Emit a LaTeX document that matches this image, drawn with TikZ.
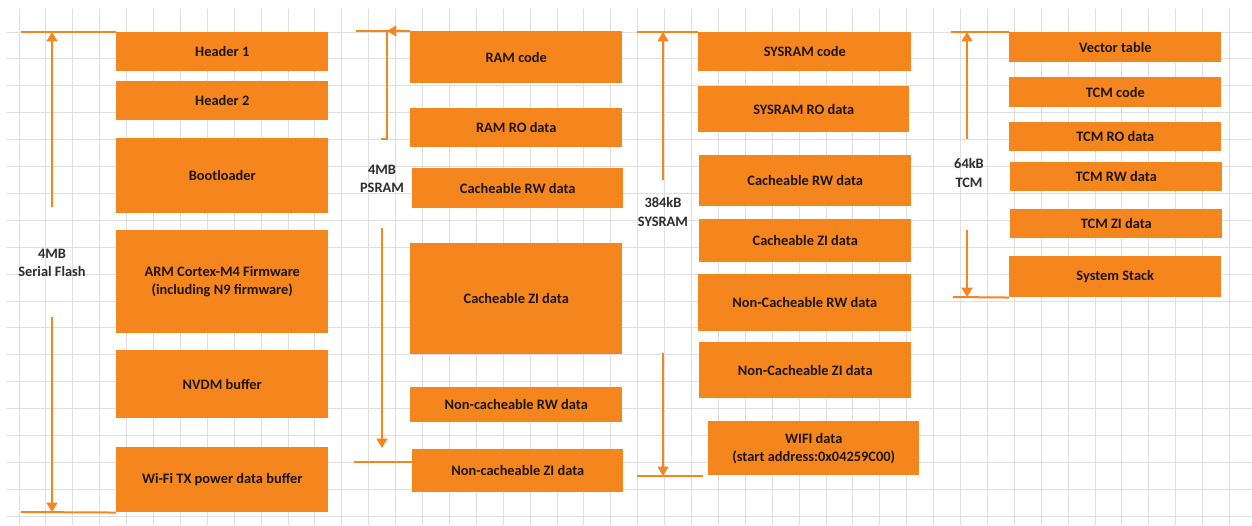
\documentclass[tikz,border=0pt]{standalone}
\usepackage{fontspec}
\setmainfont{Carlito}
\usetikzlibrary{arrows.meta}
\definecolor{memorange}{RGB}{245,134,30}
\definecolor{gridgray}{RGB}{224,222,226}
\definecolor{txtdark}{RGB}{30,22,16}
\definecolor{lbldark}{RGB}{45,45,45}
\begin{document}
\begin{tikzpicture}[x=0.75pt,y=-0.75pt,
  blk/.style args={#1x#2}{fill=memorange, anchor=north west, inner sep=0pt,
    minimum width=#1*0.75pt, minimum height=#2*0.75pt, text=txtdark,
    font=\bfseries\fontsize{10.8}{13.6}\selectfont, align=center},
  sizelbl/.style={text=lbldark, font=\bfseries\fontsize{10.8}{13.6}\selectfont,
    align=center},
  gridline/.style={draw=gridgray, line width=0.7pt},
  endline/.style={draw=memorange, line width=1.5pt},
  sizearrow/.style={draw=memorange, line width=1.5pt,
    -{Triangle[width=8pt,length=7pt]}}]
\useasboundingbox (0,0) rectangle (1252,525);
\fill[white] (0,0) rectangle (1252,525);
\foreach \i in {0,...,45}
  \draw[gridline] (19+26.9*\i,9) -- (19+26.9*\i,525);
\foreach \j in {0,...,18}
  \draw[gridline] (6,32+26.9*\j) -- (1252,32+26.9*\j);

\node[blk=212x39] (hdra) at (116,32) {Header 1};
\node[blk=212x39] (hdrb) at (116,81) {Header 2};
\node[blk=212x75] (boot) at (116,138) {Bootloader};
\node[blk=212x103] (fw) at (116,230) {ARM Cortex-M4 Firmware\\(including N9 firmware)};
\node[blk=212x68] (nvdm) at (116,350) {NVDM buffer};
\node[blk=212x65] (txpwr) at (116,447) {Wi-Fi TX power data buffer};
\coordinate (flA) at (21,32);
\coordinate (flB) at (21,512);
\coordinate (flup) at (52,207);
\coordinate (fldn) at (52,317);
\node[sizelbl] (fllbl) at (52,263) {4MB\\Serial Flash};
\draw[endline] (flA) -- (hdra.north west);
\draw[endline] (flB) -- (txpwr.south west);
\draw[sizearrow] (flup) -- (flup |- flA);
\draw[sizearrow] (fldn) -- (fldn |- flB);

\node[blk=212x52] (ramcode) at (410,31) {RAM code};
\node[blk=212x39] (ramro) at (410,108) {RAM RO data};
\node[blk=211x40] (prw) at (412,168) {Cacheable RW data};
\node[blk=212x111] (pzi) at (410,243) {Cacheable ZI data};
\node[blk=212x35] (pncrw) at (410,387) {Non-cacheable RW data};
\node[blk=211x43] (pnczi) at (412,449) {Non-cacheable ZI data};
\coordinate (psA) at (356,31);
\coordinate (psB) at (354,462);
\coordinate (pstick) at (381,139);
\coordinate (pscorner) at (387,31);
\coordinate (pshead) at (400,31);
\coordinate (psdn) at (382,228);
\coordinate (psend) at (382,448);
\node[sizelbl] (pslbl) at (382,179) {4MB\\PSRAM};
\draw[endline] (psA) -- (ramcode.north west);
\draw[endline] (pstick) -- (pstick -| pscorner) -- (pscorner);
\draw[sizearrow] (pshead) -- (pscorner);
\draw[sizearrow] (psdn) -- (psend);
\draw[endline] (psB) -- (psB -| pnczi.west);

\node[blk=213x39] (scode) at (698,32) {SYSRAM code};
\node[blk=211x46] (sro) at (698,86) {SYSRAM RO data};
\node[blk=212x51] (srw) at (699,155) {Cacheable RW data};
\node[blk=212x43] (szi) at (699,219) {Cacheable ZI data};
\node[blk=213x57] (sncrw) at (698,274) {Non-Cacheable RW data};
\node[blk=212x56] (snczi) at (699,342) {Non-Cacheable ZI data};
\node[blk=211x54] (wifi) at (708,421) {WIFI data\\(start address:0x04259C00)};
\coordinate (srA) at (637,32);
\coordinate (srB) at (637,476);
\coordinate (srBend) at (703,476);
\coordinate (srup) at (663,180);
\coordinate (srdn) at (663,353);
\node[sizelbl] (srlbl) at (663,212) {384kB\\SYSRAM};
\draw[endline] (srA) -- (scode.north west);
\draw[endline] (srB) -- (srBend);
\draw[sizearrow] (srup) -- (srup |- srA);
\draw[sizearrow] (srdn) -- (srdn |- srB);

\node[blk=212x30] (vect) at (1009,32) {Vector table};
\node[blk=212x30] (tcode) at (1009,77) {TCM code};
\node[blk=212x29] (tro) at (1009,122) {TCM RO data};
\node[blk=212x29] (trw) at (1010,162) {TCM RW data};
\node[blk=212x29] (tzi) at (1010,209) {TCM ZI data};
\node[blk=212x41] (stack) at (1009,256) {System Stack};
\coordinate (tmA) at (951,32);
\coordinate (tmB) at (953,297);
\coordinate (tmup) at (967,139);
\coordinate (tmdn) at (967,230);
\node[sizelbl] (tmlbl) at (969,173) {64kB\\TCM};
\draw[endline] (tmA) -- (vect.north west);
\draw[endline] (tmB) -- (stack.south west);
\draw[sizearrow] (tmup) -- (tmup |- tmA);
\draw[sizearrow] (tmdn) -- (tmdn |- tmB);
\end{tikzpicture}
\end{document}
